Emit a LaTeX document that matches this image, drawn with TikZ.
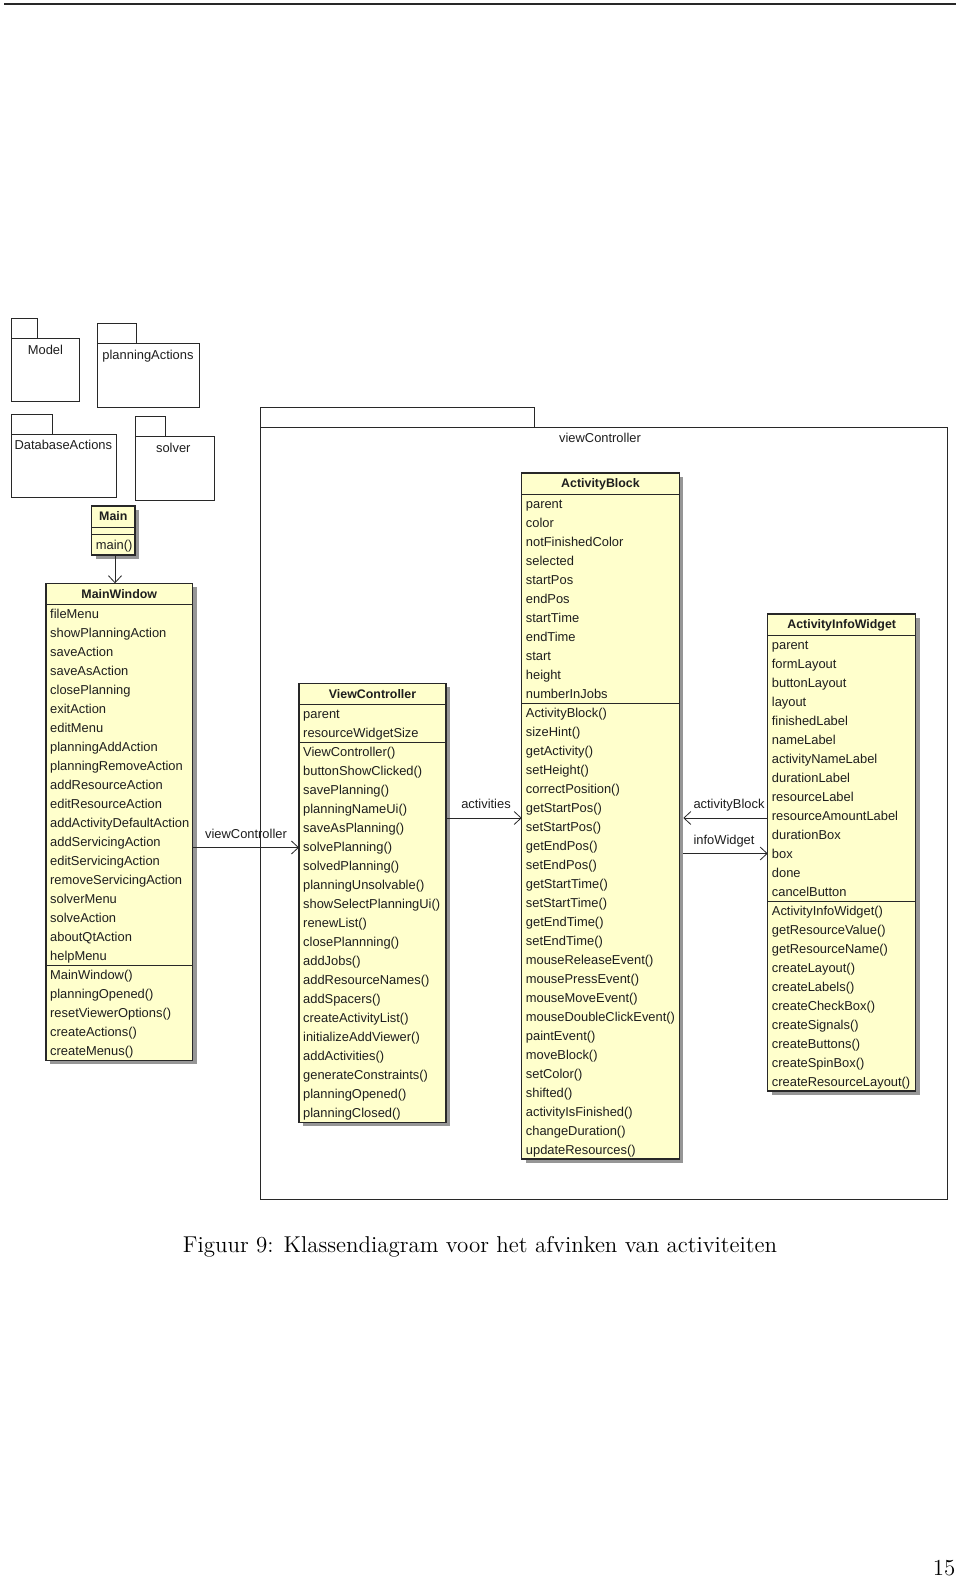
\documentclass[tikz,border=0pt]{standalone}
\usepackage{fontspec}
\setsansfont{Liberation Sans}
\usepackage{graphicx}
\usetikzlibrary{arrows.meta}
\definecolor{umlfill}{RGB}{255,255,204}
\definecolor{umlshadow}{RGB}{150,150,150}
\definecolor{umlline}{RGB}{40,40,40}
\definecolor{umltext}{RGB}{30,30,30}
\tikzset{
 classbox/.style={draw=umlline, line width=1.1pt, fill=umlfill, inner sep=0pt, outer sep=0pt},
 classtitle/.style={font=\sffamily\bfseries\fontsize{12.4}{14}\selectfont, text=umltext, inner sep=0pt},
 classrow/.style={font=\sffamily\fontsize{12.9}{15}\selectfont, text=umltext, inner sep=0pt},
 sepline/.style={draw=umlline, line width=0.9pt},
 pkgbox/.style={draw=umlline, line width=0.9pt, inner sep=0pt, outer sep=0pt, fill=white},
 pkglabel/.style={font=\sffamily\fontsize{12.9}{15}\selectfont, text=umltext, inner sep=0pt},
 assoc/.style={draw=umlline, line width=0.9pt, -{Straight Barb[length=7pt,width=13pt,line width=0.8pt]}},
 assoclabel/.style={font=\sffamily\fontsize{12.9}{15}\selectfont, text=umltext, inner sep=0pt},
 pagetext/.style={font=\rmfamily\fontsize{12}{14}\selectfont, text=black, inner sep=0pt},
}
% #1 name, #2 x, #3 y, #4 width, #5 title, #6 nAttr, #7 nOps, #8 attrs, #9 ops
\newcommand\umlclass[9]{%
 \pgfmathsetmacro\uA{#6*19}%
 \pgfmathsetmacro\uO{#7*19}%
 \pgfmathsetmacro\uH{21+\uA+\uO}%
 \fill[umlshadow] (#2+4,#3+4) rectangle (#2+#4+4,#3+\uH+4);
 \node[classbox, anchor=north west, minimum width=#4pt, minimum height=\uH pt] (#1) at (#2,#3) {};
 \node[classtitle, anchor=base] (#1-title) at (#2+#4/2, #3+14.9) {#5};
 \draw[sepline] (#2,#3+21) -- (#2+#4,#3+21);
 \draw[sepline] (#2,#3+21+\uA) -- (#2+#4,#3+21+\uA);
 \foreach \t [count=\i] in {#8} \node[classrow, anchor=base west] (#1-a\i) at (#2+4, #3+21+\i*19-4.9) {\t};
 \foreach \t [count=\i] in {#9} \node[classrow, anchor=base west] (#1-o\i) at (#2+4, #3+21+\uA+\i*19-4.9) {\t};
}
% #1 name, #2 x, #3 tab top, #4 tab width, #5 body top, #6 body width, #7 body bottom, #8 label x, #9 label
\newcommand\umlpkg[9]{%
 \node[pkgbox, anchor=north west, minimum width=#4pt, minimum height=#5-#3 pt] (#1-tab) at (#2,#3) {};
 \pgfmathsetmacro\pH{#7-#5}%
 \node[pkgbox, anchor=north west, minimum width=#6pt, minimum height=\pH pt] (#1) at (#2,#5) {};
 \node[pkglabel, anchor=base] (#1-label) at (#8, #5+15.8) {#9};
}
\begin{document}
\begin{tikzpicture}[x=1pt,y=-1pt]
\useasboundingbox (0,0) rectangle (960,1578);
\fill[white] (0,0) rectangle (960,1578);
\coordinate (ruleL) at (4,4);
\coordinate (ruleR) at (956,4);
\draw[line width=1.3pt, color=umlline] (ruleL) -- (ruleR);

% packages
\umlpkg{Model}{11.7}{318.3}{26}{338.3}{67.3}{401.7}{45.4}{Model}
\umlpkg{planningActions}{97.7}{323.3}{39}{343.3}{101.3}{407.3}{148}{planningActions}
\umlpkg{DatabaseActions}{11.7}{414}{40.6}{434}{105}{497.3}{63.3}{DatabaseActions}
\umlpkg{solver}{135}{416.7}{30.7}{436.7}{79.3}{500.7}{173.3}{solver}
\node[pkgbox, anchor=north west, minimum width=274pt, minimum height=19.8pt] (vcpkg-tab) at (260,407.5) {};
\node[pkgbox, anchor=north west, minimum width=687.5pt, minimum height=772pt] (vcpkg) at (260,427.3) {};
\node[pkglabel, anchor=base] (vcpkg-label) at (600,442.6) {viewController};

% Main
\fill[umlshadow] (95.7,510) rectangle (139,559);
\node[classbox, anchor=north west, minimum width=43.3pt, minimum height=49pt] (Main) at (91.7,506) {};
\node[classtitle, anchor=base] (Main-title) at (113.35,520.9) {Main};
\draw[sepline] (91.7,527) -- (135,527);
\draw[sepline] (91.7,534) -- (135,534);
\node[classrow, anchor=base west] (Main-o1) at (95.7,549) {main()};

\umlclass{MainWindow}{46}{583.3}{146.5}{MainWindow}{19}{5}
 {fileMenu,showPlanningAction,saveAction,saveAsAction,closePlanning,exitAction,editMenu,planningAddAction,planningRemoveAction,addResourceAction,editResourceAction,addActivityDefaultAction,addServicingAction,editServicingAction,removeServicingAction,solverMenu,solveAction,aboutQtAction,helpMenu}
 {MainWindow(),planningOpened(),resetViewerOptions(),createActions(),createMenus()}

\umlclass{ViewController}{299}{683.3}{147}{ViewController}{2}{20}
 {parent,resourceWidgetSize}
 {ViewController(),buttonShowClicked(),savePlanning(),planningNameUi(),saveAsPlanning(),solvePlanning(),solvedPlanning(),planningUnsolvable(),showSelectPlanningUi(),renewList(),closePlannning(),addJobs(),addResourceNames(),addSpacers(),createActivityList(),initializeAddViewer(),addActivities(),generateConstraints(),planningOpened(),planningClosed()}

\umlclass{ActivityBlock}{521.7}{473}{157.6}{ActivityBlock}{11}{24}
 {parent,color,notFinishedColor,selected,startPos,endPos,startTime,endTime,start,height,numberInJobs}
 {ActivityBlock(),sizeHint(),getActivity(),setHeight(),correctPosition(),getStartPos(),setStartPos(),getEndPos(),setEndPos(),getStartTime(),setStartTime(),getEndTime(),setEndTime(),mouseReleaseEvent(),mousePressEvent(),mouseMoveEvent(),mouseDoubleClickEvent(),paintEvent(),moveBlock(),setColor(),shifted(),activityIsFinished(),changeDuration(),updateResources()}

\umlclass{ActivityInfoWidget}{767.7}{614}{148}{ActivityInfoWidget}{14}{10}
 {parent,formLayout,buttonLayout,layout,finishedLabel,nameLabel,activityNameLabel,durationLabel,resourceLabel,resourceAmountLabel,durationBox,box,done,cancelButton}
 {ActivityInfoWidget(),getResourceValue(),getResourceName(),createLayout(),createLabels(),createCheckBox(),createSignals(),createButtons(),createSpinBox(),createResourceLayout()}

% connectors
\coordinate (xMain) at (115,0);
\draw[assoc] (Main.south -| xMain) -- (MainWindow.north -| xMain);

\coordinate (yVC) at (0,847.5);
\draw[assoc] (MainWindow.east |- yVC) -- (ViewController.west |- yVC);
\node[assoclabel, anchor=base] (lblVC) at (246,838.6) {viewController};

\coordinate (yAct) at (0,818);
\draw[assoc] (ViewController.east |- yAct) -- (ActivityBlock.west |- yAct);
\node[assoclabel, anchor=base] (lblAct) at (486,808.6) {activities};

\coordinate (yAB) at (0,818);
\draw[assoc] (ActivityInfoWidget.west |- yAB) -- ([xshift=4pt]ActivityBlock.east |- yAB);
\node[assoclabel, anchor=base] (lblAB) at (729,808.6) {activityBlock};

\coordinate (yIW) at (0,853.5);
\draw[assoc] ([xshift=4pt]ActivityBlock.east |- yIW) -- (ActivityInfoWidget.west |- yIW);
\node[assoclabel, anchor=base] (lblIW) at (724,844.6) {infoWidget};

% caption and page number
\node[pagetext, anchor=base] (caption) at (480,1252.3) {\resizebox{594pt}{!}{Figuur 9: Klassendiagram voor het afvinken van activiteiten}};
\node[pagetext, anchor=base east] (pagenum) at (955.5,1575.5) {\scalebox{1.91}{15}};
\end{tikzpicture}
\end{document}
